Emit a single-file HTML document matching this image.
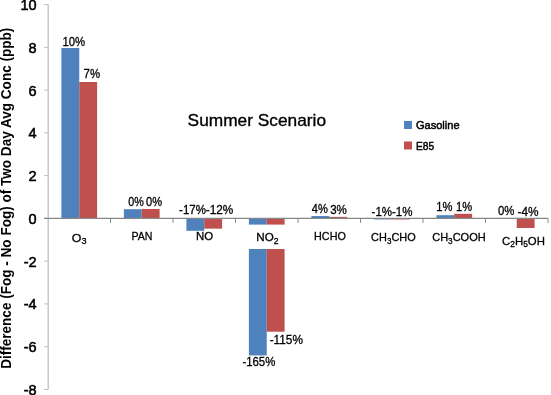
<!DOCTYPE html>
<html><head><meta charset="utf-8"><style>
html,body{margin:0;padding:0;background:#fff;width:551px;height:395px;overflow:hidden}
svg{display:block;will-change:transform}
text{font-family:"Liberation Sans",sans-serif;fill:#000;stroke:#000;stroke-width:0.3px}
.t{stroke-width:0.35px}
.lg{stroke-width:0.5px}
.yl{stroke-width:0.55px}
.b{stroke-width:0}
</style></head><body>
<svg width="551" height="395" viewBox="0 0 551 395">
<rect x="61.39" y="48.00" width="17.86" height="170.40" fill="#4F81BD"/>
<rect x="79.25" y="82.00" width="17.86" height="136.40" fill="#C0504D"/>
<rect x="123.89" y="209.21" width="17.86" height="9.19" fill="#4F81BD"/>
<rect x="141.75" y="208.99" width="17.86" height="9.41" fill="#C0504D"/>
<rect x="186.39" y="218.40" width="17.86" height="12.40" fill="#4F81BD"/>
<rect x="204.25" y="218.40" width="17.86" height="10.26" fill="#C0504D"/>
<rect x="248.89" y="218.40" width="17.86" height="137.05" fill="#4F81BD"/>
<rect x="266.75" y="218.40" width="17.86" height="113.31" fill="#C0504D"/>
<rect x="311.39" y="216.05" width="17.86" height="2.35" fill="#4F81BD"/>
<rect x="329.25" y="216.90" width="17.86" height="1.50" fill="#C0504D"/>
<rect x="373.89" y="218.40" width="17.86" height="1.07" fill="#4F81BD"/>
<rect x="391.75" y="218.40" width="17.86" height="1.07" fill="#C0504D"/>
<rect x="436.39" y="215.19" width="17.86" height="3.21" fill="#4F81BD"/>
<rect x="454.25" y="213.80" width="17.86" height="4.60" fill="#C0504D"/>
<rect x="498.89" y="217.97" width="17.86" height="0.43" fill="#4F81BD"/>
<rect x="516.75" y="218.40" width="17.86" height="9.62" fill="#C0504D"/>
<rect x="245" y="224.6" width="45" height="24.4" fill="#fff"/>
<line x1="48.2" y1="4.5" x2="48.2" y2="389.5" stroke="#BFBFBF" stroke-width="1.3"/>
<line x1="44" y1="389.44" x2="48" y2="389.44" stroke="#BFBFBF" stroke-width="1"/>
<line x1="44" y1="346.68" x2="48" y2="346.68" stroke="#BFBFBF" stroke-width="1"/>
<line x1="44" y1="303.92" x2="48" y2="303.92" stroke="#BFBFBF" stroke-width="1"/>
<line x1="44" y1="261.16" x2="48" y2="261.16" stroke="#BFBFBF" stroke-width="1"/>
<line x1="44" y1="218.40" x2="48" y2="218.40" stroke="#BFBFBF" stroke-width="1"/>
<line x1="44" y1="175.64" x2="48" y2="175.64" stroke="#BFBFBF" stroke-width="1"/>
<line x1="44" y1="132.88" x2="48" y2="132.88" stroke="#BFBFBF" stroke-width="1"/>
<line x1="44" y1="90.12" x2="48" y2="90.12" stroke="#BFBFBF" stroke-width="1"/>
<line x1="44" y1="47.36" x2="48" y2="47.36" stroke="#BFBFBF" stroke-width="1"/>
<line x1="44" y1="4.60" x2="48" y2="4.60" stroke="#BFBFBF" stroke-width="1"/>
<line x1="44" y1="218.4" x2="548" y2="218.4" stroke="#868686" stroke-width="1.2"/>
<line x1="110.50" y1="218.4" x2="110.50" y2="222.9" stroke="#868686" stroke-width="1"/>
<line x1="173.00" y1="218.4" x2="173.00" y2="222.9" stroke="#868686" stroke-width="1"/>
<line x1="235.50" y1="218.4" x2="235.50" y2="222.9" stroke="#868686" stroke-width="1"/>
<line x1="298.00" y1="218.4" x2="298.00" y2="222.9" stroke="#868686" stroke-width="1"/>
<line x1="360.50" y1="218.4" x2="360.50" y2="222.9" stroke="#868686" stroke-width="1"/>
<line x1="423.00" y1="218.4" x2="423.00" y2="222.9" stroke="#868686" stroke-width="1"/>
<line x1="485.50" y1="218.4" x2="485.50" y2="222.9" stroke="#868686" stroke-width="1"/>
<line x1="548.00" y1="218.4" x2="548.00" y2="222.9" stroke="#868686" stroke-width="1"/>
<text x="36.6" y="394.94" font-size="14.5" class="yl" text-anchor="end">-8</text>
<text x="36.6" y="352.18" font-size="14.5" class="yl" text-anchor="end">-6</text>
<text x="36.6" y="309.42" font-size="14.5" class="yl" text-anchor="end">-4</text>
<text x="36.6" y="266.66" font-size="14.5" class="yl" text-anchor="end">-2</text>
<text x="36.6" y="223.90" font-size="14.5" class="yl" text-anchor="end">0</text>
<text x="36.6" y="181.14" font-size="14.5" class="yl" text-anchor="end">2</text>
<text x="36.6" y="138.38" font-size="14.5" class="yl" text-anchor="end">4</text>
<text x="36.6" y="95.62" font-size="14.5" class="yl" text-anchor="end">6</text>
<text x="36.6" y="52.86" font-size="14.5" class="yl" text-anchor="end">8</text>
<text x="36.6" y="10.10" font-size="14.5" class="yl" text-anchor="end">10</text>
<text x="62.40" y="45.90" font-size="12" textLength="22.70" lengthAdjust="spacingAndGlyphs">10%</text>
<text x="83.60" y="78.00" font-size="12" textLength="16.50" lengthAdjust="spacingAndGlyphs">7%</text>
<text x="128.30" y="205.60" font-size="12" textLength="15.50" lengthAdjust="spacingAndGlyphs">0%</text>
<text x="146.00" y="205.60" font-size="12" textLength="16.00" lengthAdjust="spacingAndGlyphs">0%</text>
<text x="179.10" y="213.80" font-size="12" textLength="26.90" lengthAdjust="spacingAndGlyphs">-17%</text>
<text x="205.80" y="213.80" font-size="12" textLength="27.50" lengthAdjust="spacingAndGlyphs">-12%</text>
<text x="269.70" y="343.80" font-size="12" textLength="33.20" lengthAdjust="spacingAndGlyphs">-115%</text>
<text x="242.40" y="365.90" font-size="12" textLength="32.90" lengthAdjust="spacingAndGlyphs">-165%</text>
<text x="311.80" y="212.80" font-size="12" textLength="16.00" lengthAdjust="spacingAndGlyphs">4%</text>
<text x="330.20" y="214.30" font-size="12" textLength="16.70" lengthAdjust="spacingAndGlyphs">3%</text>
<text x="371.60" y="215.90" font-size="12" textLength="40.90" lengthAdjust="spacingAndGlyphs">-1%-1%</text>
<text x="436.30" y="211.40" font-size="12" textLength="16.10" lengthAdjust="spacingAndGlyphs">1%</text>
<text x="456.10" y="211.40" font-size="12" textLength="16.10" lengthAdjust="spacingAndGlyphs">1%</text>
<text x="498.00" y="214.50" font-size="12" textLength="16.40" lengthAdjust="spacingAndGlyphs">0%</text>
<text x="517.50" y="215.90" font-size="12" textLength="21.00" lengthAdjust="spacingAndGlyphs">-4%</text>
<text x="71.80" y="241.90" font-size="11.5" textLength="14.70" lengthAdjust="spacingAndGlyphs">O<tspan font-size="8.5" dy="2.5">3</tspan></text>
<text x="131.40" y="240.10" font-size="11.5" textLength="21.00" lengthAdjust="spacingAndGlyphs">PAN</text>
<text x="196.10" y="240.10" font-size="11.5" textLength="17.10" lengthAdjust="spacingAndGlyphs">NO</text>
<text x="256.30" y="241.30" font-size="11.5" textLength="22.20" lengthAdjust="spacingAndGlyphs">NO<tspan font-size="8.5" dy="2.5">2</tspan></text>
<text x="314.10" y="240.40" font-size="11.5" textLength="31.70" lengthAdjust="spacingAndGlyphs">HCHO</text>
<text x="371.10" y="241.30" font-size="11.5" textLength="44.60" lengthAdjust="spacingAndGlyphs">CH<tspan font-size="8.5" dy="2.5">3</tspan><tspan dy="-2.5">C</tspan>HO</text>
<text x="432.20" y="241.30" font-size="11.5" textLength="53.50" lengthAdjust="spacingAndGlyphs">CH<tspan font-size="8.5" dy="2.5">3</tspan><tspan dy="-2.5">C</tspan>OOH</text>
<text x="502.00" y="244.80" font-size="11.5" textLength="42.90" lengthAdjust="spacingAndGlyphs">C<tspan font-size="8.5" dy="2.5">2</tspan><tspan dy="-2.5">H</tspan><tspan font-size="8.5" dy="2.5">5</tspan><tspan dy="-2.5">O</tspan>H</text>
<text x="187.60" y="125.70" font-size="17" textLength="138.50" lengthAdjust="spacingAndGlyphs" class="t">Summer Scenario</text>
<rect x="404" y="121" width="8" height="8" fill="#4F81BD"/>
<rect x="404" y="141.5" width="8" height="8" fill="#C0504D"/>
<text x="415.90" y="128.60" font-size="11.8" textLength="43.70" lengthAdjust="spacingAndGlyphs" class="lg">Gasoline</text>
<text x="415.90" y="149.60" font-size="11.8" textLength="18.20" lengthAdjust="spacingAndGlyphs" class="lg">E85</text>
<text transform="translate(10.7,368.8) rotate(-90)" x="0" y="0" font-size="14" font-weight="bold" class="b" textLength="341.1" lengthAdjust="spacingAndGlyphs">Difference (Fog - No Fog) of Two Day Avg Conc (ppb)</text>
</svg>
</body></html>
